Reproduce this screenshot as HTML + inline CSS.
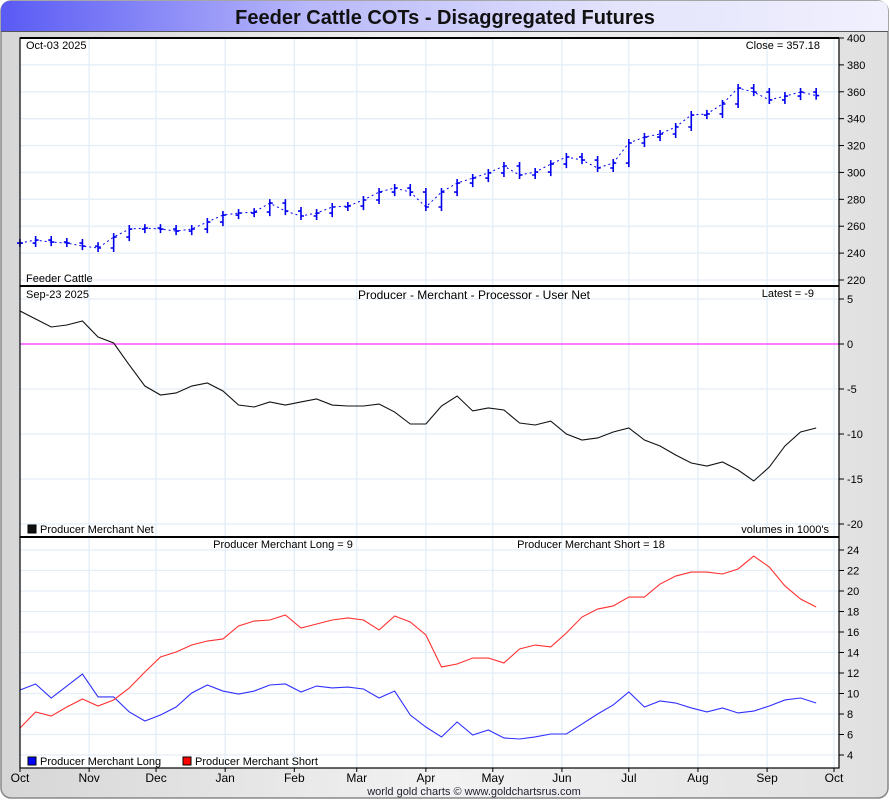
<!DOCTYPE html>
<html><head><meta charset="utf-8"><style>
body{margin:0;width:890px;height:800px;overflow:hidden;background:#fff;font-family:"Liberation Sans",sans-serif}
svg text{font-family:"Liberation Sans",sans-serif}
</style></head><body>
<svg width="890" height="800" xmlns="http://www.w3.org/2000/svg">
<defs>
<linearGradient id="tg" x1="0" x2="1"><stop offset="0" stop-color="#5a5af5"/><stop offset="0.35" stop-color="#b8b8fa"/><stop offset="0.7" stop-color="#e4e4fc"/><stop offset="1" stop-color="#f0f0fe"/></linearGradient>
<linearGradient id="fg" x1="0" x2="1"><stop offset="0" stop-color="#d6d6d6"/><stop offset="0.5" stop-color="#f2f2f2"/><stop offset="1" stop-color="#e0e0e0"/></linearGradient>
</defs>
<rect x="1" y="1" width="887" height="797" rx="10" fill="url(#fg)" stroke="#888" stroke-width="1.5"/>
<path d="M1,31 V11 Q1,1 11,1 H879 Q888,1 888,11 V31 Z" fill="url(#tg)"/>
<line x1="1" y1="31.5" x2="888" y2="31.5" stroke="#555"/>
<text x="445" y="24" text-anchor="middle" font-size="20" font-weight="bold" fill="#111">Feeder Cattle COTs - Disaggregated Futures</text>
<rect x="20" y="38" width="819" height="730" fill="#fff"/>
<g id="grid"></g>
<g id="marks"></g>
<g id="axes"></g>
<text x="26" y="49" font-size="11">Oct-03  2025</text>
<text x="820" y="49" font-size="11" text-anchor="end">Close = 357.18</text>
<text x="26" y="282" font-size="11">Feeder Cattle</text>
<text x="26" y="298" font-size="11">Sep-23  2025</text>
<text x="474" y="299" font-size="12" text-anchor="middle">Producer - Merchant - Processor - User Net</text>
<text x="814" y="297" font-size="11" text-anchor="end">Latest = -9</text>
<rect x="28" y="525" width="8" height="8" fill="#111" stroke="#000"/>
<text x="40" y="533" font-size="11">Producer Merchant Net</text>
<text x="829" y="533" font-size="11" text-anchor="end">volumes in 1000's</text>
<text x="283" y="548" font-size="11" text-anchor="middle">Producer Merchant Long = 9</text>
<text x="591" y="548" font-size="11" text-anchor="middle">Producer Merchant Short = 18</text>
<rect x="28" y="757" width="8" height="8" fill="#0000ff" stroke="#000"/>
<text x="40" y="765" font-size="11">Producer Merchant Long</text>
<rect x="183" y="757" width="8" height="8" fill="#ff0000" stroke="#000"/>
<text x="195" y="765" font-size="11">Producer Merchant Short</text>
<text x="474" y="795" font-size="11" text-anchor="middle" fill="#223">world gold charts © www.goldchartsrus.com</text>
</svg>
<script>
const months=["Oct","Nov","Dec","Jan","Feb","Mar","Apr","May","Jun","Jul","Aug","Sep","Oct"];
const monthDays=[0,31,61,92,123,151,182,212,243,273,304,335,365];
const priceTicks=[220,240,260,280,300,320,340,360,380,400];
const netTicks=[5,0,-5,-10,-15,-20];
const posTicks=[4,6,8,10,12,14,16,18,20,22,24];
const priceWeeks=[247.5,249.7,248.2,247.5,245.2,243.8,251.9,257.9,258.6,257.9,256.4,257.9,263.1,268.3,269.8,270.5,277.2,271.3,267.6,269.8,274.3,275,279.5,285.4,288.4,285.4,274.3,285.4,292.1,295.8,299.6,304.8,298.1,300.3,306.2,311.5,309.2,303.3,307,321.9,326.3,328.6,333.8,342.7,343.5,350.9,362.8,359.8,353.9,356.8,359.8,357.2];
const netVals=[3.67,2.78,1.89,2.11,2.56,0.78,0.11,-2.33,-4.67,-5.67,-5.44,-4.67,-4.33,-5.22,-6.78,-7,-6.44,-6.78,-6.44,-6.11,-6.78,-6.89,-6.89,-6.67,-7.56,-8.89,-8.89,-6.89,-5.78,-7.44,-7.11,-7.33,-8.78,-9,-8.56,-10,-10.67,-10.44,-9.78,-9.33,-10.67,-11.33,-12.33,-13.22,-13.56,-13.11,-14,-15.22,-13.67,-11.33,-9.78,-9.33];
const longVals=[10.34,10.93,9.56,10.73,11.9,9.66,9.66,8.2,7.32,7.9,8.68,10.05,10.83,10.24,9.95,10.24,10.83,10.93,10.15,10.73,10.54,10.63,10.44,9.56,10.24,7.9,6.73,5.76,7.22,5.95,6.44,5.66,5.56,5.76,6.05,6.05,7.02,8,8.88,10.15,8.68,9.27,9.07,8.59,8.2,8.59,8.1,8.29,8.78,9.37,9.56,9.07];
const shortVals=[6.63,8.2,7.8,8.68,9.46,8.78,9.37,10.54,12.1,13.56,14.05,14.73,15.12,15.32,16.59,17.07,17.17,17.66,16.39,16.78,17.17,17.37,17.17,16.2,17.56,16.98,15.71,12.59,12.88,13.46,13.46,12.98,14.34,14.73,14.54,15.9,17.46,18.24,18.54,19.41,19.41,20.68,21.46,21.85,21.85,21.66,22.15,23.41,22.34,20.49,19.22,18.44];
const NS="http://www.w3.org/2000/svg";
const X0=20,X1=834;
function xDay(d){return X0+(X1-X0)*d/365;}
function xWeek(i){return xDay(i*7);}
function yPrice(v){return 280-(v-220)*(280-38)/180;}
function yNet(v){return 344-v*9;}
function yPos(v){return 550+(24-v)*10.25;}
function mk(tag,attrs,parent){const e=document.createElementNS(NS,tag);for(const k in attrs)e.setAttribute(k,attrs[k]);document.getElementById(parent).appendChild(e);return e;}
monthDays.forEach((d,i)=>{
 const g=mk('line',{x1:xDay(d),x2:xDay(d),y1:38,y2:768,stroke:'#e3eef7','stroke-width':1.3},'grid');
 
 
 const t=mk('text',{x:xDay(d),y:782,'font-size':12,'text-anchor':'middle'},'axes');
 t.textContent=months[i];
 
 
 mk('line',{x1:xDay(d),x2:xDay(d),y1:768,y2:772,stroke:'#000'},'axes');
});
function yAxis(ticks,fn,name){ticks.forEach(v=>{const y=fn(v);
 const g=mk('line',{x1:20,x2:839,y1:y,y2:y,stroke:'#e3eef7','stroke-width':1.3},'grid');
 
 
 mk('line',{x1:839,x2:844,y1:y,y2:y,stroke:'#000'},'axes');
 const t=mk('text',{x:847,y:y+4,'font-size':11},'axes');
 t.textContent=v;
 
 
});}
yAxis(priceTicks,yPrice,'price');yAxis(netTicks,yNet,'net');yAxis(posTicks,yPos,'position');
let prev=null;
priceWeeks.forEach((v,i)=>{const x=xWeek(i),y=yPrice(v);
 const op=prev===null?v:prev;
 const hi=Math.max(v,op)+3,lo=Math.min(v,op)-3;
 const b=mk('path',{d:`M${x},${yPrice(hi)}V${yPrice(lo)}M${x-3},${yPrice(op)}H${x}M${x},${y}H${x+3}`,stroke:'#0000ee','stroke-width':1.6,fill:'none'},'marks');
 
 
 prev=v;});
let pd=priceWeeks.map((v,i)=>(i?'L':'M')+xWeek(i)+','+yPrice(v)).join('');
const pl=mk('path',{d:pd,stroke:'#0000ee','stroke-width':1,fill:'none','stroke-dasharray':'2 3'},'marks');


const z=mk('line',{x1:20,x2:839,y1:yNet(0),y2:yNet(0),stroke:'#ff33ff','stroke-width':1.2},'marks');


function line(vals,fn,color,name){const d=vals.map((v,i)=>(i?'L':'M')+xWeek(i)+','+fn(v)).join('');
 const p=mk('path',{d:d,stroke:color,'stroke-width':1.1,fill:'none'},'marks');
 
 }
line(netVals,yNet,'#111','net-line');
line(longVals,yPos,'#3030ff','long-line');
line(shortVals,yPos,'#ff3030','short-line');
[[38,286],[286,537],[537,768]].forEach(([a,b])=>{
 const r=mk('rect',{x:20,y:a,width:819,height:b-a,fill:'none',stroke:'#000','stroke-width':1.2},'axes');
 
 
 mk('line',{x1:20,x2:839,y1:a,y2:a,stroke:'#000','stroke-width':2},'axes');
});
</script>
</body></html>
